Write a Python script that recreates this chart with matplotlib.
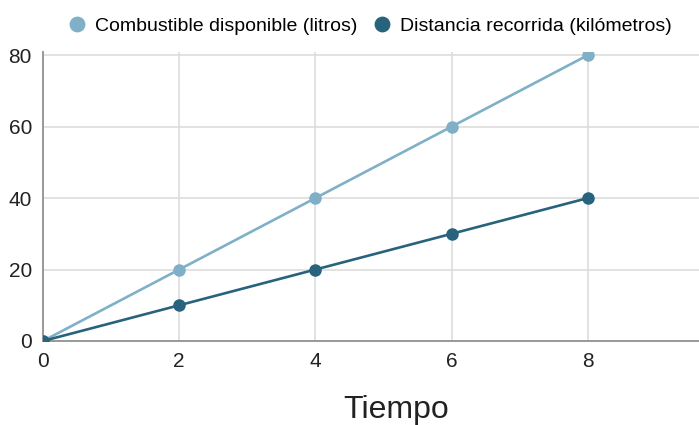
import matplotlib
matplotlib.use('Agg')
from matplotlib import pyplot as plt

# values
tiempo = [0, 2, 4, 6, 8]
combustible = [0, 20, 40, 60, 80]
distancia = [0, 10, 20, 30, 40]
x_ticks = [0, 2, 4, 6, 8]
y_ticks = [0, 20, 40, 60, 80]

light = '#7fb0c8'
dark = '#28637d'

plt.rcParams['font.family'] = ['Liberation Sans', 'DejaVu Sans']

fig = plt.figure(figsize=(6.99, 4.25), dpi=100)
ax = fig.add_axes([43 / 699, 1 - 341 / 425, 1 - 43 / 699, (341 - 51.5) / 425])

ax.plot(tiempo, combustible, color=light, lw=1.9, marker='o', ms=8,
        label='Combustible disponible (litros)', zorder=3)
ax.plot(tiempo, distancia, color=dark, lw=1.9, marker='o', ms=8,
        label='Distancia recorrida (kilómetros)', zorder=4)

ax.set_xlim(0, 9.63)
ax.set_ylim(0, 81)
ax.set_xticks(x_ticks)
ax.set_yticks(y_ticks)
ax.grid(True, color='#dddddd', lw=1.2)
ax.set_axisbelow(True)
ax.tick_params(length=0, labelsize=15, colors='#222222', pad=8)
ax.tick_params(axis='y', pad=8)

for side in ['top', 'right']:
    ax.spines[side].set_visible(False)
for side in ['left', 'bottom']:
    ax.spines[side].set_color('#999999')
    ax.spines[side].set_linewidth(1.4)

ax.set_xlabel('Tiempo', fontsize=23, color='#222222')
ax.xaxis.set_label_coords((396 - 43) / 656, -0.185)

fig.legend(loc='upper center', bbox_to_anchor=(0.53, 1.0), ncol=2, frameon=False,
           fontsize=14, handlelength=0.8, handletextpad=0.5, columnspacing=0.9,
           markerscale=1.3)
leg = fig.legends[0]
for h in leg.legend_handles:
    h.set_linestyle('none')

fig.savefig('out.png', dpi=100)
